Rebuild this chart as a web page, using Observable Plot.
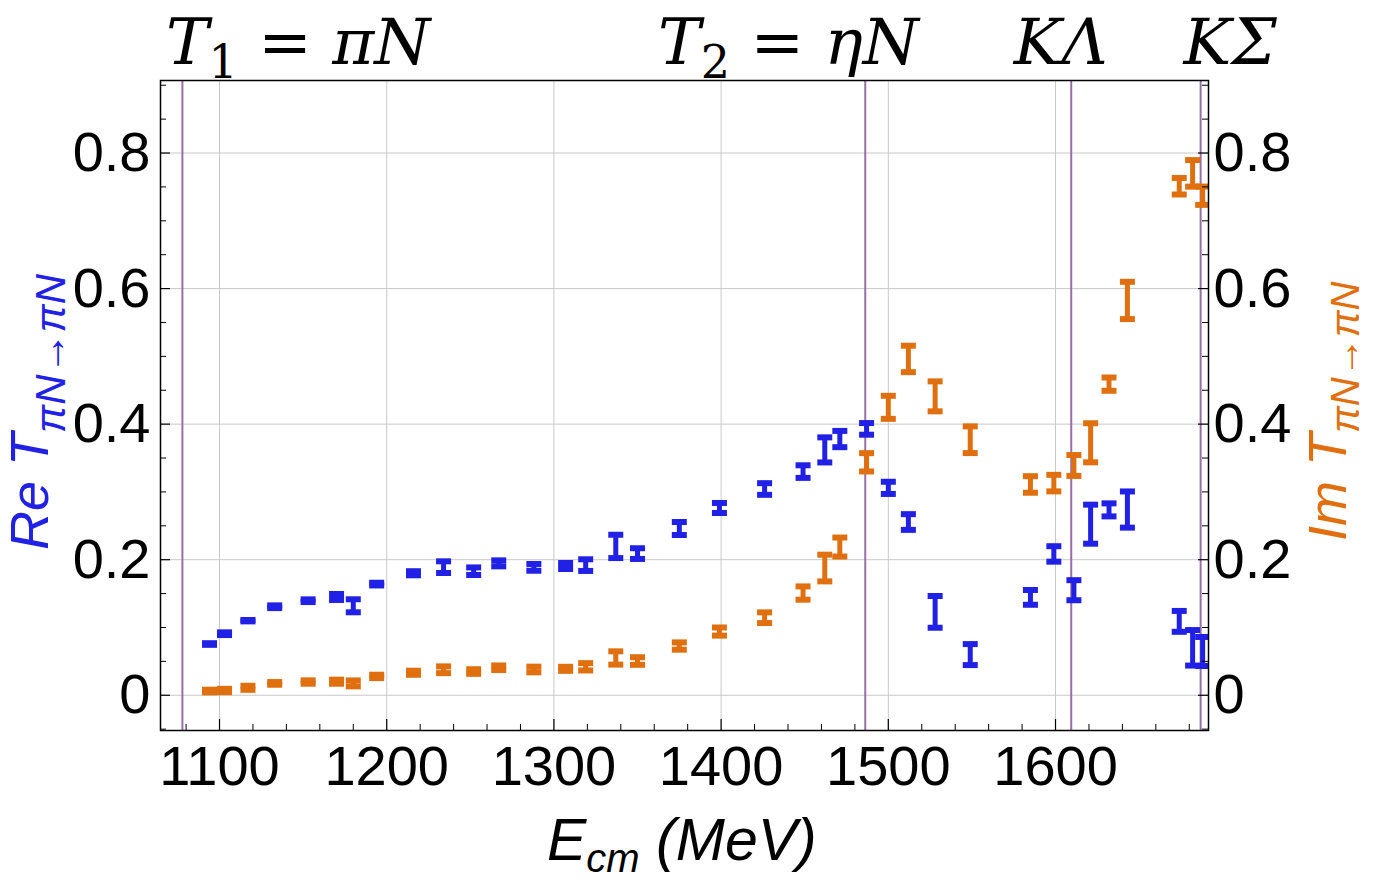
<!DOCTYPE html>
<html>
<head>
<meta charset="utf-8">
<script src="https://cdn.jsdelivr.net/npm/d3@7"></script>
<script src="https://cdn.jsdelivr.net/npm/@observablehq/plot@0.6"></script>
<style>
  html, body { margin: 0; padding: 0; background: #fff; }
  #chart svg { display: block; }
</style>
</head>
<body>
<div id="chart"></div>
<script>
// ---- data ----
const energy = [1094, 1103, 1117, 1133, 1153, 1170, 1180, 1194, 1216, 1234, 1252, 1267, 1288, 1307, 1319, 1337, 1350,
  1375, 1399, 1426, 1449, 1462, 1471, 1487, 1500, 1512, 1528, 1549, 1585, 1599, 1611, 1621, 1632, 1643, 1674, 1682, 1688];
const reValues = [0.0756, 0.0908, 0.110, 0.1306, 0.1395, 0.145, 0.132, 0.164, 0.180, 0.189, 0.183, 0.1946, 0.1887, 0.1907, 0.192, 0.2196, 0.209,
  0.246, 0.2763, 0.3043, 0.330, 0.362, 0.378, 0.393, 0.306, 0.2556, 0.123, 0.060, 0.1444, 0.2085, 0.155, 0.2524, 0.2735, 0.274, 0.109, 0.070, 0.0646];
const reErrors = [0.0012, 0.002, 0.001, 0.002, 0.002, 0.0044, 0.0096, 0.002, 0.003, 0.0086, 0.0056, 0.0044, 0.005, 0.0044, 0.0086, 0.0172, 0.0079,
  0.0096, 0.0074, 0.0086, 0.0093, 0.0185, 0.012, 0.0086, 0.009, 0.0116, 0.0234, 0.0155, 0.0109, 0.0114, 0.0148, 0.0288, 0.0096, 0.0267, 0.0154, 0.0262, 0.0214];
const imValues = [0.0062, 0.007, 0.011, 0.0175, 0.0195, 0.020, 0.0175, 0.0278, 0.0332, 0.0376, 0.035, 0.0406, 0.038, 0.039, 0.042, 0.055, 0.0505,
  0.0726, 0.094, 0.1144, 0.1508, 0.1877, 0.2187, 0.3437, 0.4248, 0.4962, 0.441, 0.377, 0.311, 0.313, 0.339, 0.3725, 0.459, 0.5825, 0.751, 0.770, 0.737];
const imErrors = [0.002, 0.0025, 0.003, 0.002, 0.0025, 0.003, 0.0044, 0.0025, 0.003, 0.005, 0.0034, 0.0034, 0.0042, 0.003, 0.0054, 0.0098, 0.0056,
  0.0054, 0.006, 0.0079, 0.0098, 0.0197, 0.014, 0.0135, 0.017, 0.0195, 0.0221, 0.0197, 0.0122, 0.0122, 0.0154, 0.0288, 0.0098, 0.0275, 0.0122, 0.0196, 0.0135];

const xTicks = [1100, 1200, 1300, 1400, 1500, 1600];
const xMinorTicks = [1080, 1120, 1140, 1160, 1180, 1220, 1240, 1260, 1280, 1320, 1340, 1360, 1380, 1420, 1440, 1460, 1480,
  1520, 1540, 1560, 1580, 1620, 1640, 1660, 1680];
const yTicks = [0, 0.2, 0.4, 0.6, 0.8];
const yMinorTicks = [-0.05, 0.05, 0.1, 0.15, 0.25, 0.3, 0.35, 0.45, 0.5, 0.55, 0.65, 0.7, 0.75, 0.85, 0.9];

const thresholds = [1077.8, 1486.2, 1609.4, 1686.8];
const thresholdNames = ["πN", "ηN", "KΛ", "KΣ"];

// ---- styling ----
const BLUE = "#2121e6";
const ORANGE = "#e0700f";
const PURPLE = "#9a6fa6";
const GRID = "#c9c9c9";
const W = 1373, H = 880;
const M = {top: 80, right: 165, bottom: 150, left: 160};
const plotW = W - M.left - M.right;
const plotH = H - M.top - M.bottom;

const reRows = energy.map((e, i) => ({e, v: reValues[i], err: reErrors[i]}));
const imRows = energy.map((e, i) => ({e, v: imValues[i], err: imErrors[i]}));

// error-bar cap drawn as a horizontal bar symbol
const cap = {draw(context) { context.rect(-7.5, -3, 15, 6); }};

function errorBars(rows, color) {
  return [
    Plot.ruleX(rows, {x: "e", y1: d => d.v - d.err, y2: d => d.v + d.err, stroke: color, strokeWidth: 5, clip: true}),
    Plot.dot(rows, {x: "e", y: d => d.v - d.err, symbol: cap, r: 4, fill: color, stroke: "none", clip: true}),
    Plot.dot(rows, {x: "e", y: d => d.v + d.err, symbol: cap, r: 4, fill: color, stroke: "none", clip: true})
  ];
}

const fontSans = "'Liberation Sans', Arial, sans-serif";

const plot = Plot.plot({
  width: W,
  height: H,
  marginTop: M.top,
  marginRight: M.right,
  marginBottom: M.bottom,
  marginLeft: M.left,
  style: {fontFamily: fontSans, background: "white", color: "black"},
  x: {domain: [1064.7, 1691.5]},
  y: {domain: [-0.052, 0.907]},
  marks: [
    Plot.gridX(xTicks, {stroke: GRID, strokeOpacity: 1, strokeWidth: 1}),
    Plot.gridY(yTicks, {stroke: GRID, strokeOpacity: 1, strokeWidth: 1}),
    Plot.ruleX(thresholds, {stroke: PURPLE, strokeWidth: 2}),
    ...errorBars(reRows, BLUE),
    ...errorBars(imRows, ORANGE),
    // inward ticks
    Plot.ruleX(xTicks, {stroke: "black", strokeWidth: 1.2, insetTop: plotH - 11}),
    Plot.ruleX(xMinorTicks, {stroke: "black", strokeWidth: 1, insetTop: plotH - 6}),
    Plot.ruleY(yTicks, {stroke: "black", strokeWidth: 1.2, insetRight: plotW - 10}),
    Plot.ruleY(yMinorTicks, {stroke: "black", strokeWidth: 1, insetRight: plotW - 6}),
    Plot.ruleY(yTicks, {stroke: "black", strokeWidth: 1.2, insetLeft: plotW - 10}),
    Plot.ruleY(yMinorTicks, {stroke: "black", strokeWidth: 1, insetLeft: plotW - 6}),
    Plot.axisX(xTicks, {tickSize: 0, tickPadding: 15, fontSize: 56, tickFormat: d => String(d), label: null}),
    Plot.axisY(yTicks, {anchor: "left", tickSize: 0, tickPadding: 10, fontSize: 56, tickFormat: d => String(d), label: null}),
    Plot.axisY(yTicks, {anchor: "right", tickSize: 0, tickPadding: 5, fontSize: 56, tickFormat: d => String(d), label: null}),
    Plot.frame({stroke: "black", strokeWidth: 1.5})
  ]
});

document.getElementById("chart").appendChild(plot);

// ---- rich-text labels (subscripts) placed with the plot's own scales ----
const svg = d3.select(plot);
const xs = plot.scale("x");

function richText(g, parts) {
  parts.forEach(p => {
    const t = g.append("tspan").text(p.text);
    t.attr("font-style", p.italic ? "italic" : "normal");
    if (p.size) t.attr("font-size", p.size);
    if (p.dy) t.attr("dy", p.dy);
  });
}

// threshold labels above the frame
const serif = "'DejaVu Serif', 'Liberation Serif', serif";
const topLabels = [
  {x: thresholds[0], dx: -16, anchor: "start", parts: [
    {text: "T", italic: true}, {text: "1", size: 46, dy: 14}, {text: " = ", dy: -14}, {text: thresholdNames[0], italic: true}]},
  {x: thresholds[1], dx: 54, anchor: "end", parts: [
    {text: "T", italic: true}, {text: "2", size: 46, dy: 14}, {text: " = ", dy: -14}, {text: thresholdNames[1], italic: true}]},
  {x: thresholds[2], dx: -10, anchor: "middle", parts: [{text: thresholdNames[2], italic: true}]},
  {x: thresholds[3], dx: 30, anchor: "middle", parts: [{text: thresholdNames[3], italic: true}]}
];
topLabels.forEach(l => {
  const t = svg.append("text")
    .attr("x", xs.apply(l.x) + l.dx)
    .attr("y", 64)
    .attr("text-anchor", l.anchor)
    .attr("font-family", serif)
    .attr("font-size", 64)
    .attr("fill", "black");
  richText(t, l.parts);
});

// x-axis title
const xt = svg.append("text")
  .attr("x", 547).attr("y", 860)
  .attr("text-anchor", "start")
  .attr("font-family", fontSans).attr("font-size", 59).attr("fill", "black");
richText(xt, [{text: "E", italic: true}, {text: "cm", italic: true, size: 40, dy: 12}, {text: " (", italic: true, dy: -12}, {text: "MeV", italic: true}, {text: ")", italic: true}]);

// left y title (blue)
const lt = svg.append("text")
  .attr("transform", `translate(48,550) rotate(-90)`)
  .attr("text-anchor", "start")
  .attr("font-family", fontSans).attr("font-size", 54).attr("fill", BLUE);
richText(lt, [{text: "Re T", italic: true}, {text: "πN→πN", italic: true, size: 42, dy: 17}]);

// right y title (orange)
const rt = svg.append("text")
  .attr("transform", `translate(1346,541) rotate(-90)`)
  .attr("text-anchor", "start")
  .attr("font-family", fontSans).attr("font-size", 54).attr("fill", ORANGE);
richText(rt, [{text: "Im T", italic: true}, {text: "πN→πN", italic: true, size: 40, dy: 13}]);
</script>
</body>
</html>
